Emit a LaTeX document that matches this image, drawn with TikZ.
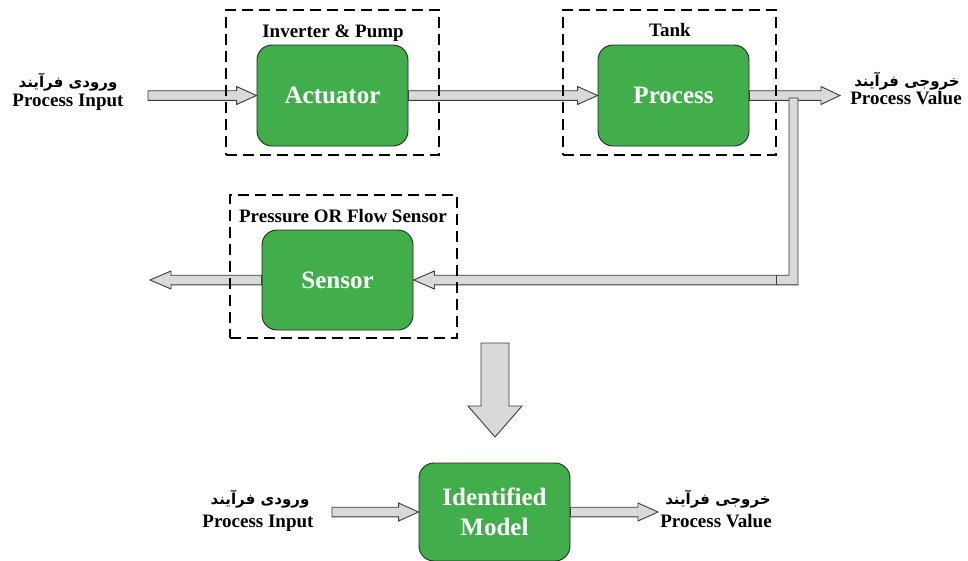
\documentclass[tikz,border=0pt]{standalone}
\usepackage{fontspec}
\setmainfont{Liberation Serif}
\newfontfamily\arabicfont[Script=Arabic]{DejaVu Sans}
\TeXXeTstate=1
\usetikzlibrary{calc}
\definecolor{boxgreen}{RGB}{65,173,75}
\definecolor{arrowgray}{RGB}{217,217,217}
\definecolor{edgegray}{RGB}{60,60,60}
\tikzset{
  fat/.style={draw=edgegray, fill=arrowgray, line width=0.9pt, line join=miter},
  greenbox/.style={draw=black!85, fill=boxgreen, line width=0.9pt, rounded corners=15pt,
    minimum width=151pt, text=white, font=\fontsize{25}{30}\selectfont\bfseries, align=center, inner sep=0pt},
  dashbox/.style={draw=black, line width=1.1pt, dash pattern=on 11pt off 6pt, inner sep=0pt},
  lab/.style={font=\fontsize{19}{22}\selectfont\bfseries, inner sep=0pt, anchor=base},
  fa/.style={font=\fontsize{15}{17}\selectfont\arabicfont\bfseries, inner sep=0pt},
}
\newcommand\fatarrow[3]{%
  \draw[fat] let \p1=(#1), \p2=(#2) in
    ({\x1},{\y2+4.8pt}) -- ({\x2-(#3)},{\y2+4.8pt}) -- ({\x2-(#3)},{\y2+9pt}) -- ({\x2},{\y2})
    -- ({\x2-(#3)},{\y2-9pt}) -- ({\x2-(#3)},{\y2-4.8pt}) -- ({\x1},{\y2-4.8pt}) -- cycle;}
\begin{document}
\begin{tikzpicture}[x=1pt,y=-1pt]
\useasboundingbox (0,0) rectangle (968,560);
% green blocks
\node[greenbox, minimum height=101pt] (act) at (332.5,95.5) {Actuator};
\node[greenbox, minimum height=101pt] (proc) at (673.5,95.5) {Process};
\node[greenbox, minimum height=100pt] (sen) at (337.5,280) {Sensor};
\node[greenbox, minimum height=98pt] (model) at (494.5,512) {Identified\\Model};
% free ends
\coordinate (inL) at (148,95.5);
\coordinate (outR) at (840,95.5);
\coordinate (senL) at (150,280);
\coordinate (fb) at (793.5,98);
\coordinate (inB) at (332,512);
\coordinate (outB) at (658,512);
\coordinate (down) at (494.5,343);
% connectors
\fatarrow{inL}{act.west}{20pt}
\fatarrow{act.east}{proc.west}{20pt}
\fatarrow{proc.east}{outR}{19pt}
\draw[fat] let \p1=(fb), \p2=(sen.east) in
  ({\x1-4.5pt},{\y1}) -- ({\x1-4.5pt},{\y2+4.8pt}) -- ({\x2+21pt},{\y2+4.8pt}) -- ({\x2+21pt},{\y2+9pt})
  -- ({\x2},{\y2}) -- ({\x2+21pt},{\y2-9pt}) -- ({\x2+21pt},{\y2-4.8pt}) -- ({\x1+4.5pt},{\y2-4.8pt})
  -- ({\x1+4.5pt},{\y1}) -- cycle;
\draw[fat] (776,275.2) -- (776,284.8);
\fatarrow{sen.west}{senL}{-21pt}
\fatarrow{inB}{model.west}{20pt}
\fatarrow{model.east}{outB}{20pt}
% big down arrow
\draw[fat] (down) ++(-13.5,0) -- ++(0,63) -- ++(-13,0) -- ++(27,31) -- ++(27,-31) -- ++(-13,0) -- ++(0,-63) -- cycle;
% dashed groups
\node[dashbox, minimum width=213pt, minimum height=145pt] (actg) at (332.5,82.5) {};
\node[dashbox, minimum width=213pt, minimum height=145pt] (procg) at (669.5,82.5) {};
\node[dashbox, minimum width=227pt, minimum height=143pt] (seng) at (343.5,266.5) {};
% group labels
\node[lab] (l1) at (333,37) {Inverter \& Pump};
\node[lab] (l2) at (670,36) {Tank};
\node[lab] (l3) at (343,222) {Pressure OR Flow Sensor};
% io labels
\node[fa] (t1) at (68,82) {\beginR ورودی فرآیند\endR};
\node[lab] (t2) at (68,106) {Process Input};
\node[fa] (t3) at (907,81) {\beginR خروجی فرآیند\endR};
\node[lab] (t4) at (906,104) {Process Value};
\node[fa] (t5) at (260,499) {\beginR ورودی فرآیند\endR};
\node[lab] (t6) at (258,527) {Process Input};
\node[fa] (t7) at (718,499) {\beginR خروجی فرآیند\endR};
\node[lab] (t8) at (716,527) {Process Value};
\end{tikzpicture}
\end{document}
